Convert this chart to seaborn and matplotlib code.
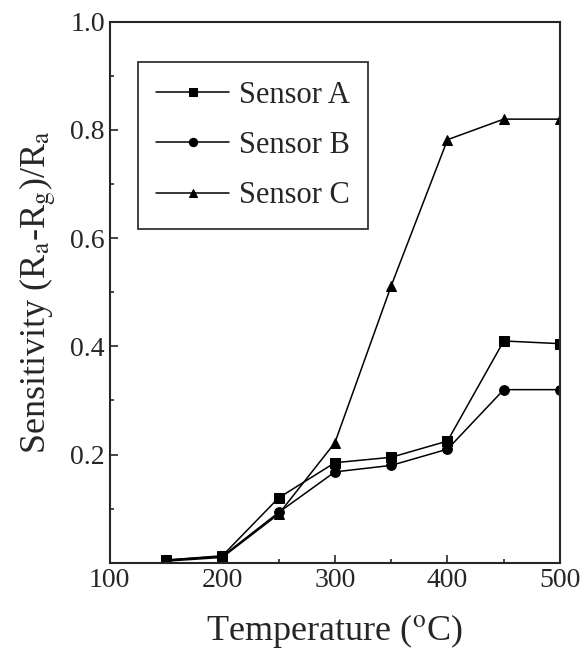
import pandas as pd
import numpy as np
import matplotlib
matplotlib.use('Agg')
import matplotlib.pyplot as plt
import seaborn as sns
from matplotlib.ticker import MultipleLocator

temperature = [150, 200, 250, 300, 350, 400, 450, 500]
sensor_a = [0.005, 0.013, 0.12, 0.185, 0.195, 0.225, 0.41, 0.405]
sensor_b = [0.005, 0.012, 0.093, 0.168, 0.180, 0.210, 0.32, 0.32]
sensor_c = [0.003, 0.010, 0.090, 0.222, 0.512, 0.782, 0.82, 0.82]
names = ['Sensor A', 'Sensor B', 'Sensor C']

df = pd.DataFrame({
    'T': temperature * 3,
    'S': sensor_a + sensor_b + sensor_c,
    'sensor': np.repeat(names, len(temperature)),
})

sns.set_style('ticks')
plt.rcParams['font.family'] = ['Liberation Serif', 'DejaVu Serif']
plt.rcParams['mathtext.fontset'] = 'stix'

fig = plt.figure(figsize=(5.84, 6.59), dpi=100)
ax = fig.add_axes([0.188, 0.146, 0.771, 0.821])

sns.lineplot(data=df, x='T', y='S', hue='sensor', style='sensor',
             palette=['black'] * 3, markers=['s', 'o', '^'], dashes=False,
             markersize=7, linewidth=1.1, markeredgecolor='black', ax=ax)

ax.set_xlim(100, 500)
ax.set_ylim(0, 1.0)
ax.set_xticks([100, 200, 300, 400, 500])
ax.set_yticks([0.2, 0.4, 0.6, 0.8, 1.0])
ax.xaxis.set_minor_locator(MultipleLocator(50))
ax.yaxis.set_minor_locator(MultipleLocator(0.1))
ax.tick_params(which='both', direction='in', labelsize=20, width=1.2)
ax.tick_params(which='major', length=6)
ax.tick_params(which='minor', length=3)
for s in ax.spines.values():
    s.set_linewidth(1.5)

ax.set_xlabel('Temperature ($^\\mathrm{o}$C)', fontsize=26, labelpad=14)
ax.set_ylabel('Sensitivity (R$_\\mathrm{a}$-R$_\\mathrm{g}$)/R$_\\mathrm{a}$', fontsize=26, labelpad=8)

handles, labels = ax.get_legend_handles_labels()
for h in handles:
    h.set_markersize(6)
leg = ax.legend(handles, labels, loc='upper left', bbox_to_anchor=(0.062, 0.925),
                borderaxespad=0, fontsize=22, frameon=True, fancybox=False,
                edgecolor='black', handlelength=2.4, handletextpad=0.3,
                labelspacing=0.7, borderpad=0.6)
leg.get_frame().set_linewidth(1.3)

fig.savefig('out.png', dpi=100)
